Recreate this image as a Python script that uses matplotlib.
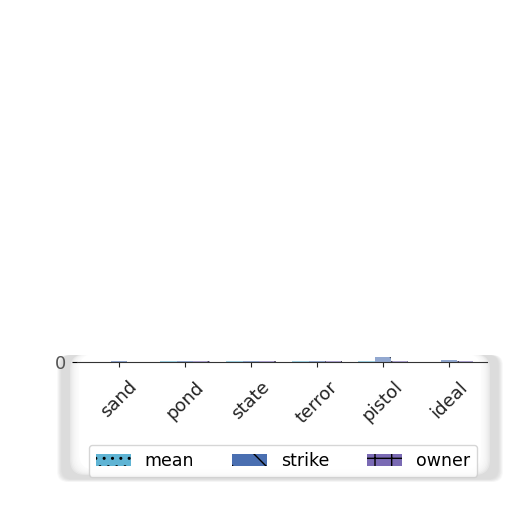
import numpy as np
import matplotlib.pyplot as plt
from matplotlib.patches import FancyBboxPatch

categories = ['sand', 'pond', 'state', 'terror', 'pistol', 'ideal']
series = ['mean', 'strike', 'owner']
mean_vals = [0.3, 0.5, 0.4, 0.5, 0.4, 0.3]
strike_vals = [0.4, 0.6, 0.5, 0.7, 3.0, 1.2]
owner_vals = [0.3, 0.4, 0.5, 0.4, 0.6, 0.5]
colors = ['#5fb4d4', '#4a6fb1', '#7a6ab4']
hatches = ['..', '\\', '+']

fig = plt.figure(figsize=[5.12, 5.12], dpi=100)

# soft shadow behind the axes/legend block
for i in range(10):
    pad = 10 - i
    fig.patches.append(FancyBboxPatch(
        ((62 - pad * 0.5) / 512, (512 - 479 - pad * 0.3) / 512),
        (436 + pad * 1.0) / 512, (124 + pad * 0.3) / 512,
        boxstyle='round,pad=0,rounding_size=0.02',
        transform=fig.transFigure, facecolor='#a0a0a0', edgecolor='none',
        alpha=0.04, zorder=0))
for i in range(8):
    shrink = i * 1.3
    fig.patches.append(FancyBboxPatch(
        ((70 + shrink) / 512, (512 - 475 + shrink * 0.6) / 512),
        (420 - 2 * shrink) / 512, (121 - shrink * 0.6) / 512,
        boxstyle='round,pad=0,rounding_size=0.03',
        transform=fig.transFigure, facecolor='white', edgecolor='none',
        alpha=0.3 if i < 7 else 1.0, zorder=0))

ax = fig.add_axes([77 / 512, (512 - 362) / 512, 410 / 512, 5 / 512])
ax.set_zorder(2)
ax.patch.set_alpha(0)

x = np.arange(len(categories))
w = 0.25
data = [mean_vals, strike_vals, owner_vals]
for i in range(3):
    ax.bar(x + (i - 1) * w, data[i], w, color=colors[i], hatch=hatches[i],
           edgecolor='black', linewidth=0, alpha=0.6, label=series[i])

ax.set_xlim(-0.64, 5.58)
ax.set_ylim(0, 3.2)
ax.set_yticks([0])
ax.set_xticks(x)
ax.set_xticklabels(categories, rotation=45, fontsize=13)
ax.tick_params(axis='x', pad=8, colors='#222222')
ax.tick_params(axis='y', labelsize=13, labelcolor='#555555', pad=4.5)
for s in ['top', 'right', 'left']:
    ax.spines[s].set_visible(False)
ax.spines['bottom'].set_color('#333333')

leg = ax.legend(loc='upper center', bbox_to_anchor=(283 / 512, 1 - 445 / 512),
                bbox_transform=fig.transFigure, ncol=3, fontsize=12.5,
                frameon=True, fancybox=True, columnspacing=2.2,
                handlelength=2.0, borderaxespad=0)
for h in leg.legend_handles:
    h.set_alpha(1)

fig.savefig('out.png', dpi=100)
